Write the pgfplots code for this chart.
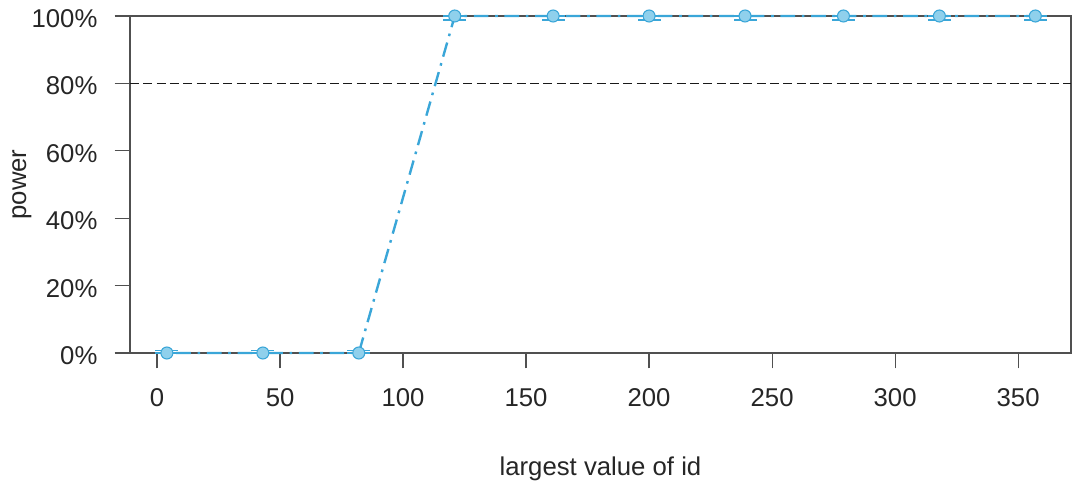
\documentclass[border=0pt]{standalone}
\usepackage{pgfplots}
\pgfplotsset{compat=1.18}
\usepackage{fontspec}
\setmainfont{Liberation Sans}
\definecolor{lineblue}{HTML}{3AA6D8}
\definecolor{fillblue}{HTML}{8FD0EC}
\definecolor{axgray}{HTML}{505050}
\begin{document}
\begin{tikzpicture}
\begin{axis}[
  scale only axis,
  width=705.75pt, height=252.75pt,
  xmin=-11, xmax=371.5,
  ymin=0, ymax=100,
  font=\fontsize{19.3}{23}\selectfont,
  /pgf/number format/assume math mode=true,
  axis line style={axgray, line width=0.9pt},
  every tick/.style={axgray, line width=0.9pt},
  tick align=outside,
  major tick length=11.5pt,
  xtick={0,50,...,350},
  ytick={0,20,...,100},
  yticklabels={0\%,20\%,40\%,60\%,80\%,100\%},
  xtick pos=bottom, ytick pos=left,
  xticklabel style={anchor=north, inner sep=0pt, yshift=-15pt, text=black!85},
  yticklabel style={anchor=east, inner sep=0pt, xshift=-12.75pt, yshift=-2pt, text=black!85},
  ticklabel shift=0pt,
  xlabel={largest value of id},
  ylabel={power},
  xlabel style={at={(axis description cs:0.5,-0.3086)}, anchor=north, inner sep=0pt, text=black!85},
  ylabel style={at={(axis description cs:-0.1148,0.5)}, anchor=center, inner sep=0pt, text=black!85},
  clip=false,
]
\addplot[black!90, line width=1.3pt, dash pattern=on 6.75pt off 3.25pt, forget plot] coordinates {(-11,80) (371.5,80)};
\addplot[lineblue, line width=1.8pt, dash pattern=on 2pt off 5pt on 11pt off 5pt,
  mark=*, mark size=4.5pt, mark options={solid, fill=fillblue, draw=lineblue, line width=0.8pt},
  error bars/.cd, y dir=both, y explicit,
  error mark options={rotate=90, lineblue, line width=1.2pt, mark size=8.6pt, solid},
  error bar style={lineblue, line width=1.2pt, solid}]
coordinates {
(4,0) += (0,0.8) -= (0,0)
(43,0) += (0,0.8) -= (0,0)
(82,0) += (0,0.8) -= (0,0)
(121,100) += (0,0) -= (0,1.2)
(161,100) += (0,0) -= (0,1.2)
(200,100) += (0,0) -= (0,1.2)
(239,100) += (0,0) -= (0,1.2)
(279,100) += (0,0) -= (0,1.2)
(318,100) += (0,0) -= (0,1.2)
(357,100) += (0,0) -= (0,1.2)
};
\end{axis}
\pgfresetboundingbox
\path ([xshift=-97.5pt,yshift=-98.25pt]current axis.south west) rectangle ([xshift=0.75pt,yshift=12pt]current axis.north east);
\end{tikzpicture}
\end{document}
